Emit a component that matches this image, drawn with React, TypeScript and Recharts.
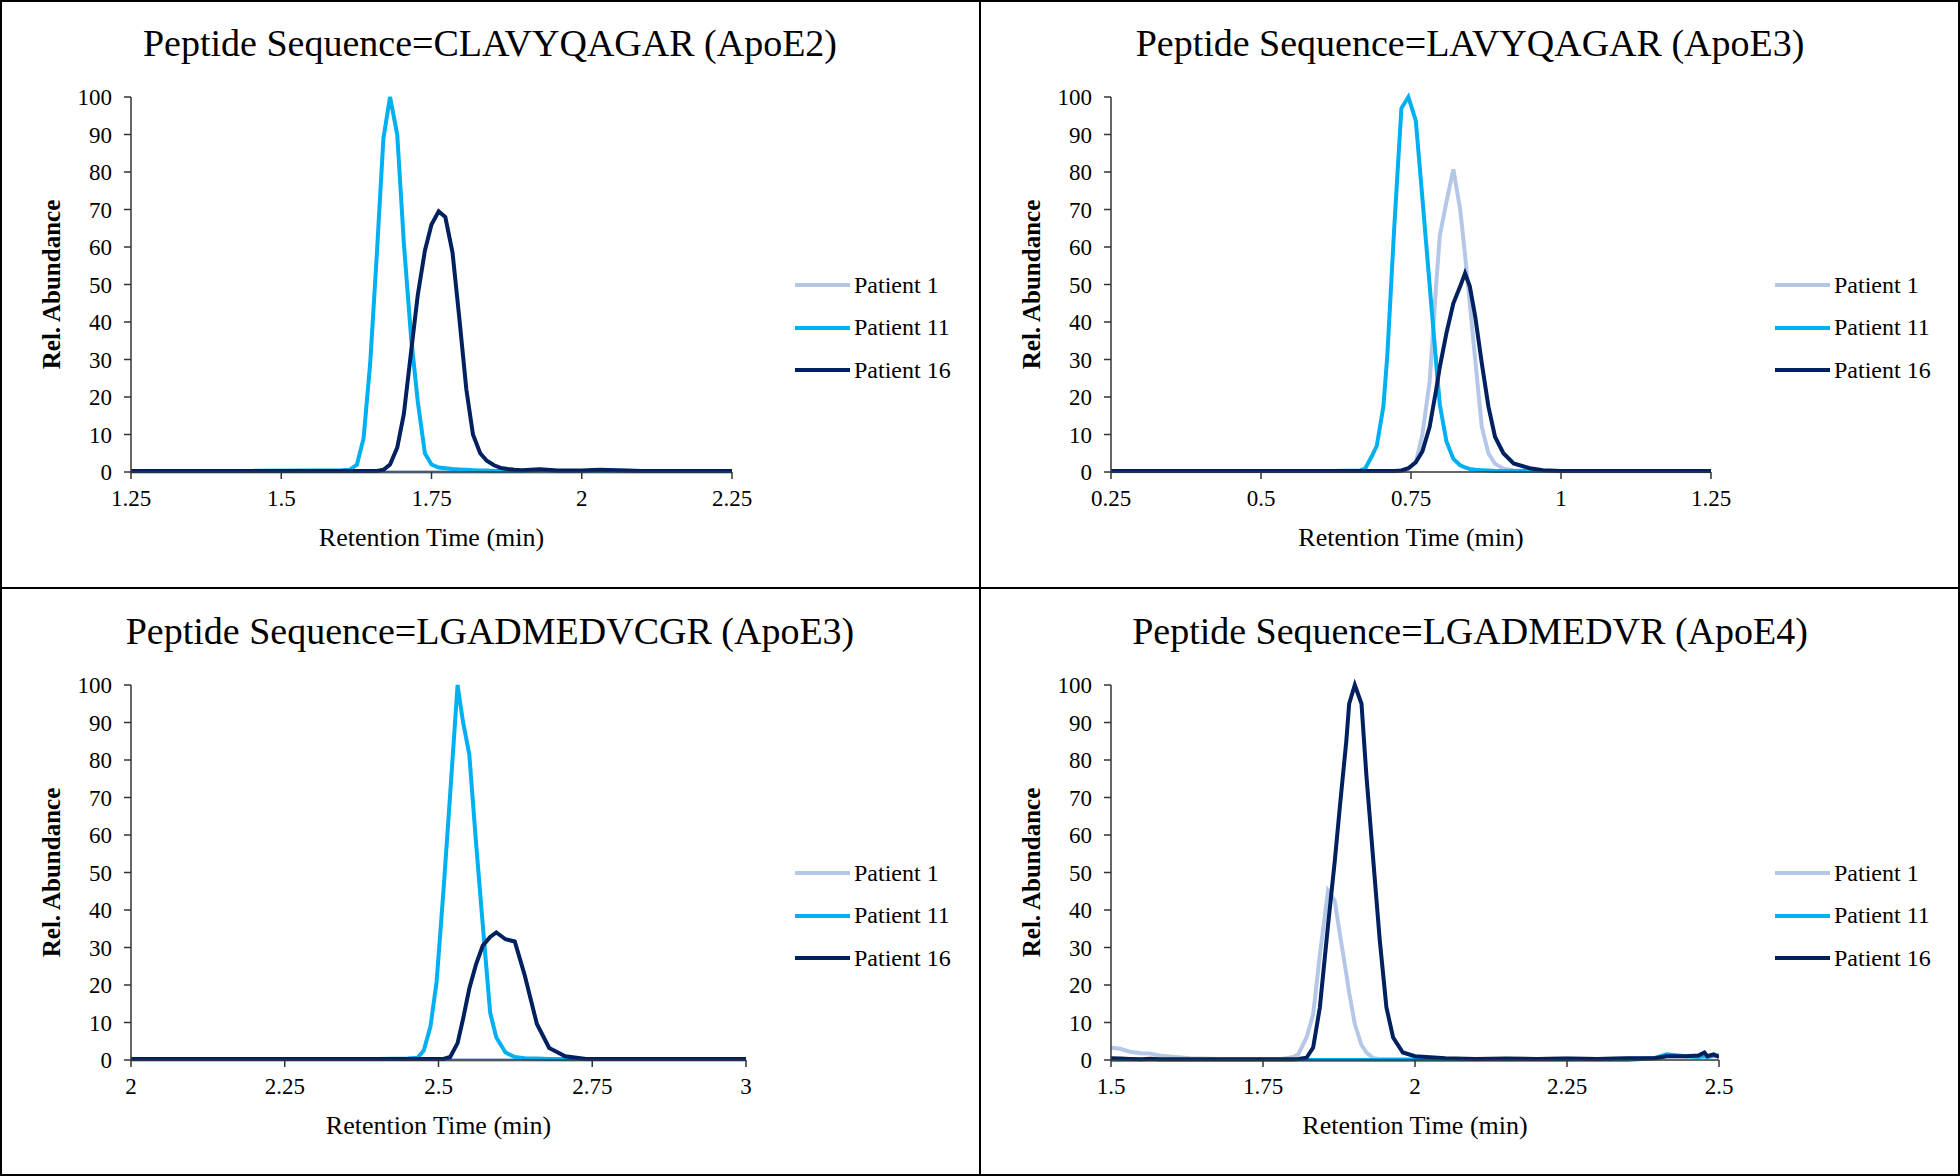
import React from 'react';
import { LineChart, Line, XAxis, YAxis, Legend } from 'recharts';

const FONT = '"Liberation Serif", "Times New Roman", serif';

const seriesNames = ['Patient 1', 'Patient 11', 'Patient 16'];
const seriesColors = ['#b4c7e7', '#00b0f0', '#002060'];
const yTicks = [0, 10, 20, 30, 40, 50, 60, 70, 80, 90, 100];

// Panel A: CLAVYQAGAR (ApoE2)
const timeA = [1.25, 1.35, 1.45, 1.55, 1.6, 1.614, 1.626, 1.637, 1.648, 1.659, 1.67, 1.681, 1.693, 1.704, 1.716, 1.727, 1.739, 1.75, 1.762, 1.773, 1.785, 1.796, 1.808, 1.819, 1.831, 1.842, 1.854, 1.865, 1.877, 1.888, 1.9, 1.93, 1.96, 2.0, 2.03, 2.1, 2.18, 2.25];
const p1A = [0, 0, 0, 0, 0, 0, 0, 0, 0, 0, 0, 0, 0, 0, 0, 0, 0, 0, 0, 0, 0, 0, 0, 0, 0, 0, 0, 0, 0, 0, 0, 0, 0, 0, 0, 0, 0, 0];
const p11A = [0.3, 0.3, 0.3, 0.4, 0.5, 0.6, 2, 9, 29, 58, 89, 100, 90, 61, 36, 19, 5, 2, 1.2, 1, 0.8, 0.7, 0.6, 0.5, 0.4, 0.4, 0.3, 0.3, 0.3, 0.3, 0.3, 0.6, 0.3, 0.3, 0.4, 0.3, 0.3, 0.3];
const p16A = [0.3, 0.3, 0.3, 0.3, 0.3, 0.3, 0.3, 0.3, 0.3, 0.3, 0.6, 2, 6.5, 15.5, 32, 47, 59, 66, 69.5, 68, 58.5, 41.5, 22, 10, 5, 3, 1.8, 1.1, 0.8, 0.6, 0.5, 0.7, 0.4, 0.4, 0.6, 0.3, 0.3, 0.3];

// Panel B: LAVYQAGAR (ApoE3)
const timeB = [0.25, 0.35, 0.45, 0.55, 0.62, 0.665, 0.674, 0.684, 0.693, 0.704, 0.7105, 0.722, 0.734, 0.7456, 0.758, 0.769, 0.781, 0.792, 0.798, 0.809, 0.8206, 0.832, 0.84, 0.848, 0.857, 0.868, 0.879, 0.89, 0.904, 0.921, 0.948, 0.97, 1.0, 1.05, 1.1, 1.15, 1.2, 1.25];
const p1B = [0.2, 0.2, 0.2, 0.2, 0.2, 0.2, 0.2, 0.2, 0.2, 0.2, 0.2, 0.2, 0.3, 0.8, 2.5, 10, 24, 50, 63, 72, 80.7, 70, 58, 45, 30, 12, 5, 2.2, 0.9, 0.4, 0.3, 0.3, 0.2, 0.2, 0.2, 0.2, 0.2, 0.2];
const p11B = [0.3, 0.3, 0.3, 0.3, 0.3, 0.4, 1, 4, 7, 17.5, 31, 65, 97, 100, 93.7, 73, 50, 29, 18, 8.2, 3.5, 1.8, 1.2, 0.8, 0.6, 0.5, 0.4, 0.3, 0.3, 0.3, 0.3, 0.3, 0.3, 0.3, 0.3, 0.3, 0.3, 0.3];
const p16B = [0.3, 0.3, 0.3, 0.3, 0.3, 0.3, 0.3, 0.3, 0.3, 0.3, 0.3, 0.3, 0.4, 1, 2.6, 5.5, 12, 22, 28, 37, 45, 49.5, 53, 49.5, 41.5, 29, 17.5, 9.4, 5, 2.3, 1, 0.5, 0.3, 0.3, 0.3, 0.3, 0.3, 0.3];

// Panel C: LGADMEDVCGR (ApoE3)
const timeC = [2, 2.1, 2.2, 2.3, 2.4, 2.45, 2.466, 2.476, 2.487, 2.497, 2.508, 2.519, 2.531, 2.54, 2.55, 2.561, 2.572, 2.584, 2.594, 2.609, 2.624, 2.64, 2.66, 2.68, 2.706, 2.74, 2.8, 2.9, 3];
const p1C = [0, 0, 0, 0, 0, 0, 0, 0, 0, 0, 0, 0, 0, 0, 0, 0, 0, 0, 0, 0, 0, 0, 0, 0, 0, 0, 0, 0, 0];
const p11C = [0.3, 0.3, 0.3, 0.3, 0.3, 0.4, 0.6, 2.5, 9, 21, 45, 71, 100, 90, 81.6, 58, 36, 12.6, 6, 2, 0.8, 0.5, 0.4, 0.3, 0.3, 0.3, 0.3, 0.3, 0.3];
const p16C = [0.3, 0.3, 0.3, 0.3, 0.3, 0.3, 0.3, 0.3, 0.3, 0.3, 0.3, 0.8, 4.5, 11, 19, 25.5, 30.5, 32.8, 34, 32.2, 31.6, 22.7, 9.6, 3.2, 1, 0.3, 0.3, 0.3, 0.3];

// Panel D: LGADMEDVR (ApoE4)
const timeD = [1.5, 1.515, 1.531, 1.55, 1.565, 1.58, 1.6, 1.63, 1.68, 1.73, 1.78, 1.8, 1.808, 1.8216, 1.8325, 1.8435, 1.857, 1.868, 1.8764, 1.887, 1.8917, 1.901, 1.912, 1.92, 1.931, 1.942, 1.953, 1.964, 1.98, 2, 2.05, 2.1, 2.15, 2.2, 2.25, 2.3, 2.35, 2.394, 2.414, 2.445, 2.466, 2.476, 2.481, 2.491, 2.5];
const p1D = [3.3, 3, 2.2, 1.8, 1.7, 1.2, 0.9, 0.5, 0.3, 0.3, 0.3, 0.8, 1.5, 6, 12.2, 28, 45.2, 42.5, 33.6, 23, 18, 9.6, 4, 2, 0.5, 0.3, 0.3, 0.3, 0.3, 0.3, 0.3, 0.3, 0.3, 0.3, 0.4, 0.3, 0.5, 0.6, 1, 1, 1, 1.2, 0.8, 1, 1];
const p11D = [0, 0, 0, 0, 0, 0, 0, 0, 0, 0, 0, 0, 0, 0, 0, 0, 0, 0, 0, 0, 0, 0, 0, 0, 0, 0, 0, 0, 0, 0, 0, 0, 0, 0, 0, 0, 0, 0.5, 1.5, 1, 0.8, 1, 0.8, 1.2, 1.2];
const p16D = [0.5, 0.4, 0.3, 0.2, 0.3, 0.2, 0.2, 0.2, 0.2, 0.2, 0.2, 0.2, 0.3, 0.6, 3.3, 14, 36, 53, 67.5, 85, 95, 100, 95, 76, 54, 32, 14, 6, 2, 1, 0.5, 0.3, 0.4, 0.3, 0.4, 0.3, 0.5, 0.5, 1, 1, 1.2, 2, 1, 1.5, 0.8];

const panels = [
  { title: 'Peptide Sequence=CLAVYQAGAR (ApoE2)', time: timeA, values: [p1A, p11A, p16A], domain: [1.25, 2.25], ticks: [1.25, 1.5, 1.75, 2, 2.25], right: 248, left: 0, top: 0 },
  { title: 'Peptide Sequence=LAVYQAGAR (ApoE3)', time: timeB, values: [p1B, p11B, p16B], domain: [0.25, 1.25], ticks: [0.25, 0.5, 0.75, 1, 1.25], right: 249, left: 980, top: 0 },
  { title: 'Peptide Sequence=LGADMEDVCGR (ApoE3)', time: timeC, values: [p1C, p11C, p16C], domain: [2, 3], ticks: [2, 2.25, 2.5, 2.75, 3], right: 234, left: 0, top: 588 },
  { title: 'Peptide Sequence=LGADMEDVR (ApoE4)', time: timeD, values: [p1D, p11D, p16D], domain: [1.5, 2.5], ticks: [1.5, 1.75, 2, 2.25, 2.5], right: 241, left: 980, top: 588 },
];

const renderLegend = (props: any) => (
  <div style={{ fontFamily: FONT, fontSize: 24, color: '#000' }}>
    {(props.payload || []).map((entry: any) => (
      <div key={entry.value} style={{ display: 'flex', alignItems: 'center', height: 42.5, whiteSpace: 'nowrap' }}>
        <span style={{ display: 'inline-block', width: 55, height: 4, background: entry.color, marginRight: 4 }} />
        <span>{entry.value}</span>
      </div>
    ))}
  </div>
);

function Panel({ title, time, values, domain, ticks, right, left, top }: any) {
  const rows = time.map((t: number, i: number) => ({
    t,
    s0: values[0][i],
    s1: values[1][i],
    s2: values[2][i],
  }));

  return (
    <div style={{ position: 'absolute', left, top, width: 980, height: 588 }}>
      <div style={{
        position: 'absolute', top: 24, left: 0, width: 980, textAlign: 'center',
        fontFamily: FONT, fontSize: 38, lineHeight: '38px', color: '#000', zIndex: 2,
      }}>
        {title}
      </div>
      <LineChart width={980} height={588} data={rows} margin={{ top: 97, right, left: 0, bottom: 0 }}>
        <XAxis
          dataKey="t"
          type="number"
          domain={domain}
          ticks={ticks}
          interval={0}
          allowDataOverflow
          height={116}
          tickSize={7}
          tickMargin={11}
          stroke="#333"
          strokeWidth={1.5}
          tick={{ fontSize: 23, fill: '#000', fontFamily: FONT }}
          label={{ value: 'Retention Time (min)', position: 'insideBottom', offset: 42, fontSize: 26, fill: '#000', fontFamily: FONT }}
        />
        <YAxis
          type="number"
          domain={[0, 100]}
          ticks={yTicks}
          interval={0}
          width={131}
          tickSize={7}
          tickMargin={12}
          stroke="#333"
          strokeWidth={1.5}
          tick={{ fontSize: 23, fill: '#000', fontFamily: FONT }}
          label={{
            value: 'Rel. Abundance',
            angle: -90,
            position: 'insideLeft',
            offset: 51,
            fontSize: 25,
            fontWeight: 'bold',
            fill: '#000',
            fontFamily: FONT,
            style: { textAnchor: 'middle' },
          }}
        />
        <Legend
          layout="vertical"
          align="center"
          verticalAlign="middle"
          content={renderLegend}
          wrapperStyle={{ left: 795, top: 264, width: 180 }}
        />
        {seriesNames.map((name, k) => (
          <Line
            key={name}
            type="linear"
            dataKey={`s${k}`}
            name={name}
            stroke={seriesColors[k]}
            strokeWidth={4}
            dot={false}
            activeDot={false}
            isAnimationActive={false}
          />
        ))}
      </LineChart>
    </div>
  );
}

export default function App() {
  return (
    <div style={{ position: 'absolute', left: 0, top: 0, width: 1960, height: 1176, background: '#fff', overflow: 'hidden' }}>
      {panels.map((p) => (
        <Panel key={p.title} {...p} />
      ))}
      <div style={{ position: 'absolute', left: 979, top: 0, width: 2, height: 1176, background: '#000' }} />
      <div style={{ position: 'absolute', left: 0, top: 587, width: 1960, height: 2, background: '#000' }} />
      <div style={{ position: 'absolute', left: 0, top: 0, width: 1960, height: 1176, border: '2px solid #000', boxSizing: 'border-box' }} />
    </div>
  );
}
